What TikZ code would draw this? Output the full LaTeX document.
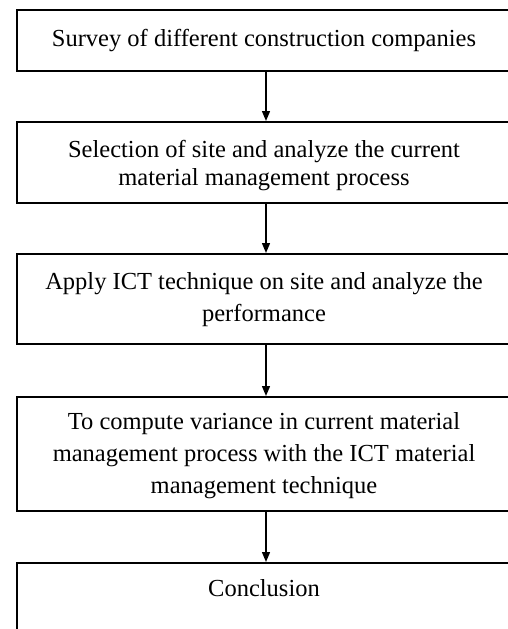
\documentclass[tikz,border=0pt]{standalone}
\usepackage{fontspec}
\setmainfont{Liberation Serif}
\usetikzlibrary{arrows.meta}
\begin{document}
\begin{tikzpicture}[x=1pt,y=-1pt,
  stepbox/.style={draw=black, line width=2pt, rectangle, inner sep=0pt,
    minimum width=499pt, anchor=north west},
  txt/.style={anchor=base, inner sep=0pt, font=\fontsize{24.5}{28}\selectfont},
  flow/.style={draw=black, line width=1.4pt,
    -{Triangle[length=10pt,width=8pt]}}]
\useasboundingbox (0,0) rectangle (508,629);
\clip (0,0) rectangle (508,629);

% process boxes
\node[stepbox, minimum height=61.5pt] (b1) at (15.5,8.5) {};
\node[stepbox, minimum height=81pt]   (b2) at (15.5,121) {};
\node[stepbox, minimum height=89.5pt] (b3) at (15.5,253) {};
\node[stepbox, minimum height=114pt]  (b4) at (15.5,396) {};
\node[stepbox, minimum height=100pt]  (b5) at (15.5,562) {};

% box labels, one node per line
\node[txt] (t1)  at (264,46)  {Survey of different construction companies};
\node[txt] (t2a) at (264,157) {Selection of site and analyze the current};
\node[txt] (t2b) at (264,185) {material management process};
\node[txt] (t3a) at (264,289) {Apply ICT technique on site and analyze the};
\node[txt] (t3b) at (264,321) {performance};
\node[txt] (t4a) at (264,429) {To compute variance in current material};
\node[txt] (t4b) at (264,461) {management process with the ICT material};
\node[txt] (t4c) at (264,493) {management technique};
\node[txt] (t5)  at (264,596) {Conclusion};

% flow arrows
\draw[flow] (b1.south) -- (b2.north);
\draw[flow] (b2.south) -- (b3.north);
\draw[flow] (b3.south) -- (b4.north);
\draw[flow] (b4.south) -- (b5.north);
\end{tikzpicture}
\end{document}
